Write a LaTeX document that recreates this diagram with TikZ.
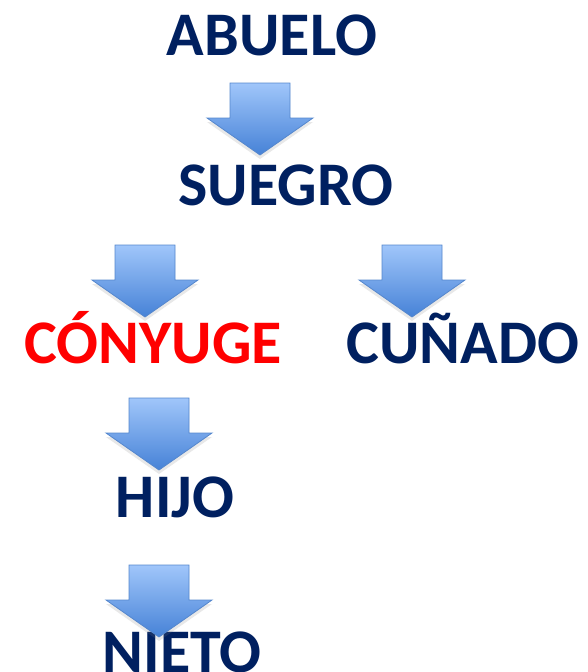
\documentclass[tikz,border=0pt]{standalone}
\usepackage{fontspec}
\setmainfont{Carlito}
\usetikzlibrary{shadows}
\definecolor{navy}{RGB}{0,32,96}
\definecolor{arrtop}{RGB}{160,198,250}
\definecolor{arrbot}{RGB}{70,130,215}
\definecolor{arrline}{RGB}{85,135,205}
\tikzset{
  lbl/.style={anchor=base, inner sep=0pt, text=navy, font=\fontsize{62}{62}\selectfont\bfseries},
  redlbl/.style={lbl, text=red},
  blockarrow/.pic={
    \shade[top color=arrtop, bottom color=arrbot, draw=arrline, line width=0.8pt,
      drop shadow={opacity=0.18, shadow xshift=0pt, shadow yshift=-4pt}]
      (-30,0) -- (30,0) -- (30,-35) -- (53,-35) -- (0,-72) -- (-53,-35) -- (-30,-35) -- cycle;
  }
}
\begin{document}
\begin{tikzpicture}[x=1pt,y=1pt]
\useasboundingbox (0,0) rectangle (587,-672);
\node[lbl] (abuelo) at (272,-55) {ABUELO};
\node[lbl] (suegro) at (286,-205) {SUEGRO};
\node[redlbl] (conyuge) at (153,-363) {CÓNYUGE};
\node[lbl] (cunado) at (463,-363) {CUÑADO};
\node[lbl] (hijo) at (175,-517) {HIJO};
\node[lbl] (nieto) at (182,-672) {NIETO};
\pic at (260,-83) {blockarrow};
\pic at (145,-245) {blockarrow};
\pic at (412,-245) {blockarrow};
\pic at (159,-398) {blockarrow};
\pic at (159,-565) {blockarrow};
\end{tikzpicture}
\end{document}
